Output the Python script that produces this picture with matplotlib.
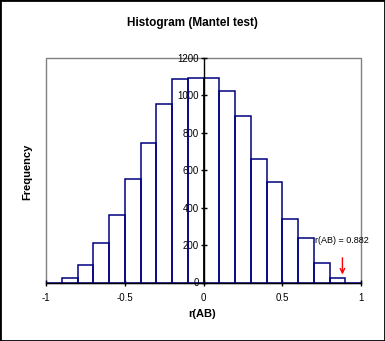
import numpy as np
import matplotlib
matplotlib.use('Agg')
import matplotlib.pyplot as plt
from matplotlib.patches import Rectangle

plt.rcParams['font.family'] = ['Liberation Sans', 'DejaVu Sans']

# histogram of permuted r(AB) values
bin_starts = [-1.0, -0.9, -0.8, -0.7, -0.6, -0.5, -0.4, -0.3, -0.2, -0.1,
              0.0, 0.1, 0.2, 0.3, 0.4, 0.5, 0.6, 0.7, 0.8, 0.9]
bin_width = 0.1
counts = [0, 22, 92, 210, 359, 552, 744, 952, 1086, 1091,
          1091, 1023, 888, 658, 537, 338, 238, 103, 22, 0]

r_obs = 0.882
x_ticks = [-1, -0.5, 0, 0.5, 1]
y_ticks = [0, 200, 400, 600, 800, 1000, 1200]

bar_color = '#000080'
frame_color = '#808080'

fig = plt.figure(figsize=(3.85, 3.41), dpi=100)
fig.patch.set_facecolor('white')
ax = fig.add_axes([46/385, 1 - 282.5/341, 315/385, 224.5/341])

ax.bar(bin_starts, counts, width=bin_width, align='edge', facecolor='none',
       edgecolor=bar_color, linewidth=1.1, zorder=3)

ax.set_xlim(-1, 1)
ax.set_ylim(0, 1200)

# y axis crosses at x = 0, gray box around the plot area
ax.spines['left'].set_position(('data', 0))
ax.spines['left'].set_color('black')
ax.spines['left'].set_linewidth(1.0)
ax.spines['left'].set_zorder(4)
ax.spines['bottom'].set_color('black')
ax.spines['bottom'].set_linewidth(1.0)
ax.spines['bottom'].set_zorder(2)
ax.spines['top'].set_visible(False)
ax.spines['right'].set_visible(False)
ax.add_patch(Rectangle((0, 0), 1, 1, transform=ax.transAxes, fill=False,
                       edgecolor=frame_color, linewidth=1.0, zorder=0,
                       clip_on=False))

ax.set_xticks(x_ticks)
ax.set_xticklabels(['-1', '-0.5', '0', '0.5', '1'])
ax.set_yticks(y_ticks)
ax.tick_params(axis='both', direction='inout', length=5, width=1.0,
               color='black', labelsize=7)
ax.tick_params(axis='x', pad=5)
ax.tick_params(axis='y', pad=1)

# observed statistic
ax.annotate('', xy=(r_obs, 28), xytext=(r_obs, 147),
            arrowprops=dict(arrowstyle='->', color='red', lw=1.0,
                            mutation_scale=8), zorder=5)
ax.text(0.705, 223, 'r(AB) = %.3f' % r_obs, fontsize=6.5, ha='left',
        va='center', zorder=5)

fig.text(192.5/385, 1 - 23/341, 'Histogram (Mantel test)', fontsize=8.5,
         fontweight='bold', ha='center', va='center')
fig.text(202.5/385, 1 - 314/341, 'r(AB)', fontsize=8, fontweight='bold',
         ha='center', va='center')
fig.text(27/385, 1 - 172/341, 'Frequency', fontsize=8, fontweight='bold',
         ha='center', va='center', rotation=90)

fig.add_artist(Rectangle((0, 0), 1, 1, transform=fig.transFigure, fill=False,
                         edgecolor='black', linewidth=2.0))

fig.savefig('out.png', dpi=100)
